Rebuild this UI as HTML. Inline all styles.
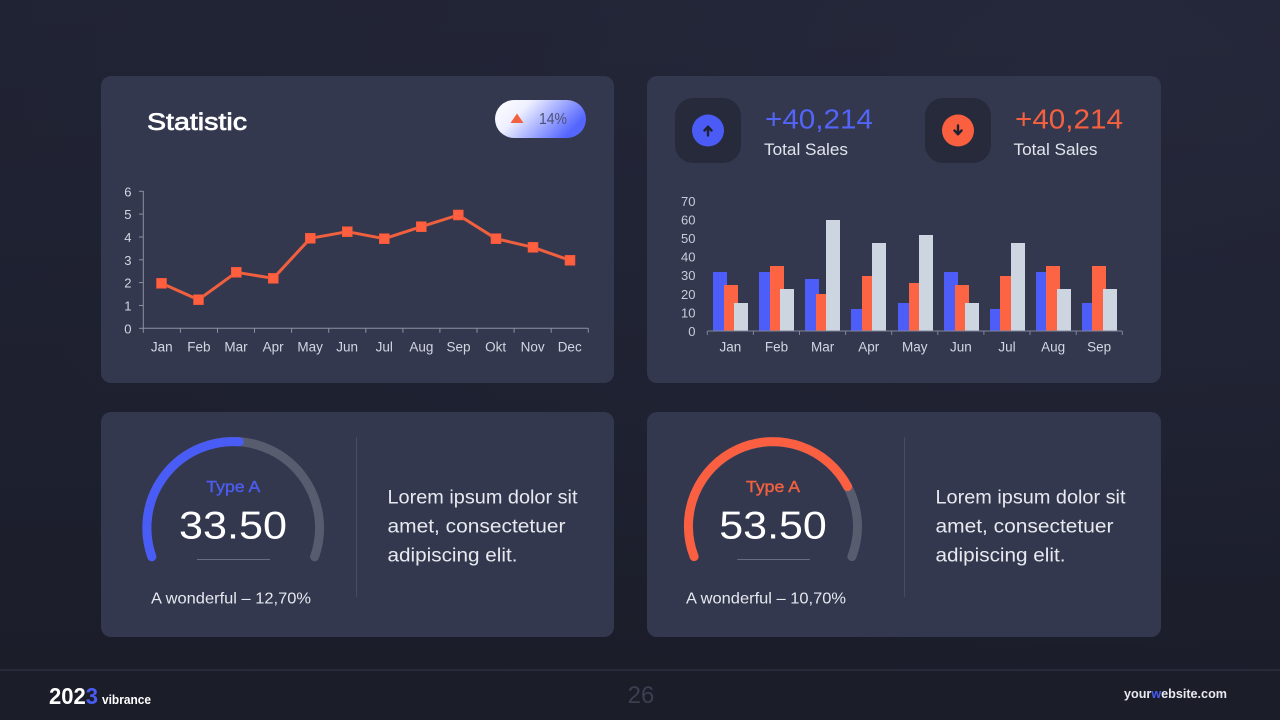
<!DOCTYPE html>
<html><head><meta charset="utf-8"><style>
html,body{margin:0;padding:0;}
body{width:1280px;height:720px;overflow:hidden;background:linear-gradient(180deg,#24273a 0%,#202334 55%,#1b1d29 100%);font-family:"Liberation Sans",sans-serif;}
svg{display:block;}
</style></head><body>
<svg width="1280" height="720" viewBox="0 0 1280 720" xmlns="http://www.w3.org/2000/svg" font-family="Liberation Sans, sans-serif">
<defs>
<linearGradient id="pill" x1="0" y1="0" x2="1" y2="0.4">
<stop offset="0" stop-color="#ffffff"/><stop offset="0.35" stop-color="#eef0ff"/><stop offset="1" stop-color="#5566ff"/>
</linearGradient>
<radialGradient id="vig" cx="0.85" cy="0.1" r="0.9">
<stop offset="0" stop-color="#262a3c" stop-opacity="0.5"/><stop offset="1" stop-color="#181a25" stop-opacity="0.3"/>
</radialGradient>
</defs>
<rect x="0" y="0" width="1280" height="720" fill="url(#vig)"/>
<!-- footer -->
<rect x="0" y="670" width="1280" height="50" fill="#1b1d29"/>
<rect x="0" y="669.5" width="1280" height="1.2" fill="#2f3245"/>
<text x="49" y="704" font-size="23" font-weight="700" fill="#ffffff" textLength="49" lengthAdjust="spacingAndGlyphs">202<tspan fill="#4a5cf0">3</tspan></text>
<text x="102" y="704" font-size="13" font-weight="700" fill="#ffffff" textLength="49" lengthAdjust="spacingAndGlyphs">vibrance</text>
<text x="641" y="703" font-size="24" fill="#3b3f51" text-anchor="middle">26</text>
<text x="1124" y="698" font-size="13" font-weight="700" fill="#e8e9ef" textLength="103" lengthAdjust="spacingAndGlyphs">your<tspan fill="#4a5cf0">w</tspan>ebsite.com</text>

<!-- cards -->
<rect x="101" y="76" width="513" height="307" rx="10" fill="#33384f"/>
<rect x="647" y="76" width="514" height="307" rx="10" fill="#33384f"/>
<rect x="101" y="412" width="513" height="225" rx="10" fill="#33384f"/>
<rect x="647" y="412" width="514" height="225" rx="10" fill="#33384f"/>

<!-- Card 1: Statistic -->
<text x="147" y="130" font-size="24" fill="#ffffff" stroke="#ffffff" stroke-width="0.7" textLength="100" lengthAdjust="spacingAndGlyphs">Statistic</text>
<rect x="495" y="100" width="91" height="38" rx="19" fill="url(#pill)"/>
<polygon points="510.5,123 517,113.5 523.5,123" fill="#f2603f"/>
<text x="539" y="124" font-size="16" fill="#4d5273" textLength="28" lengthAdjust="spacingAndGlyphs">14%</text>

<g stroke="#8c90a2" stroke-width="1" fill="none">
<line x1="143.3" y1="191" x2="143.3" y2="328.3"/>
<line x1="143.3" y1="328.3" x2="588.3" y2="328.3"/>
<line x1="139" y1="191.3" x2="143.3" y2="191.3"/>
<line x1="139" y1="214.1" x2="143.3" y2="214.1"/>
<line x1="139" y1="237" x2="143.3" y2="237"/>
<line x1="139" y1="259.8" x2="143.3" y2="259.8"/>
<line x1="139" y1="282.6" x2="143.3" y2="282.6"/>
<line x1="139" y1="305.5" x2="143.3" y2="305.5"/>
<line x1="139" y1="328.3" x2="143.3" y2="328.3"/>
<path d="M143.3 328.3v4.5M180.4 328.3v4.5M217.5 328.3v4.5M254.5 328.3v4.5M291.6 328.3v4.5M328.7 328.3v4.5M365.8 328.3v4.5M402.9 328.3v4.5M439.9 328.3v4.5M477 328.3v4.5M514.1 328.3v4.5M551.2 328.3v4.5M588.3 328.3v4.5"/>
</g>
<g font-size="13" fill="#d3d6e0" text-anchor="end">
<text x="131.5" y="196.3">6</text>
<text x="131.5" y="219.1">5</text>
<text x="131.5" y="242">4</text>
<text x="131.5" y="264.8">3</text>
<text x="131.5" y="287.6">2</text>
<text x="131.5" y="310.5">1</text>
<text x="131.5" y="333.3">0</text>
</g>
<g font-size="13.5" fill="#d3d6e0" text-anchor="middle">
<text x="161.8" y="351.5">Jan</text>
<text x="198.9" y="351.5">Feb</text>
<text x="236" y="351.5">Mar</text>
<text x="273.1" y="351.5">Apr</text>
<text x="310.1" y="351.5">May</text>
<text x="347.2" y="351.5">Jun</text>
<text x="384.3" y="351.5">Jul</text>
<text x="421.4" y="351.5">Aug</text>
<text x="458.5" y="351.5">Sep</text>
<text x="495.6" y="351.5">Okt</text>
<text x="532.6" y="351.5">Nov</text>
<text x="569.7" y="351.5">Dec</text>
</g>
<polyline fill="none" stroke="#f0603f" stroke-width="3" stroke-linejoin="round" points="161.5,283.3 198.5,299.7 236.3,272.3 273.3,278.3 310.3,238.3 347.3,231.7 384.3,238.7 421.3,226.7 458.3,215 496,238.7 533,247.3 570,260.3"/>
<g fill="#ff5f3e" stroke="#e8553a" stroke-width="0.6">
<rect x="156.5" y="278.3" width="10" height="10"/>
<rect x="193.5" y="294.7" width="10" height="10"/>
<rect x="231.3" y="267.3" width="10" height="10"/>
<rect x="268.3" y="273.3" width="10" height="10"/>
<rect x="305.3" y="233.3" width="10" height="10"/>
<rect x="342.3" y="226.7" width="10" height="10"/>
<rect x="379.3" y="233.7" width="10" height="10"/>
<rect x="416.3" y="221.7" width="10" height="10"/>
<rect x="453.3" y="210" width="10" height="10"/>
<rect x="491" y="233.7" width="10" height="10"/>
<rect x="528" y="242.3" width="10" height="10"/>
<rect x="565" y="255.3" width="10" height="10"/>
</g>

<!-- Card 2: top stats -->
<rect x="675" y="98" width="66" height="65" rx="18" fill="#262a3b"/>
<circle cx="708" cy="130.5" r="16" fill="#4b5cf6"/>
<path d="M708 135.5v-8M704.5 130.5l3.5-3.8 3.5 3.8" fill="none" stroke="#1e2233" stroke-width="2.4" stroke-linecap="round" stroke-linejoin="round"/>
<text x="765" y="128.3" font-size="28" fill="#5364f6" textLength="108" lengthAdjust="spacingAndGlyphs">+40,214</text>
<text x="764" y="155" font-size="17" fill="#e2e4eb" textLength="84" lengthAdjust="spacingAndGlyphs">Total Sales</text>

<rect x="925" y="98" width="66" height="65" rx="18" fill="#262a3b"/>
<circle cx="958" cy="130.5" r="16" fill="#fa6040"/>
<path d="M958 125.5v8M954.5 130.5l3.5 3.8 3.5-3.8" fill="none" stroke="#1e2233" stroke-width="2.4" stroke-linecap="round" stroke-linejoin="round"/>
<text x="1015" y="128.3" font-size="28" fill="#f7603f" textLength="108" lengthAdjust="spacingAndGlyphs">+40,214</text>
<text x="1013.5" y="155" font-size="17" fill="#e2e4eb" textLength="84" lengthAdjust="spacingAndGlyphs">Total Sales</text>

<!-- bar chart -->
<g font-size="13" fill="#c9cdd9" text-anchor="end">
<text x="695.5" y="206">70</text>
<text x="695.5" y="224.5">60</text>
<text x="695.5" y="243">50</text>
<text x="695.5" y="261.6">40</text>
<text x="695.5" y="280.2">30</text>
<text x="695.5" y="298.8">20</text>
<text x="695.5" y="317.3">10</text>
<text x="695.5" y="335.9">0</text>
</g>
<g>
<rect x="713" y="272" width="14" height="59" fill="#4d5ef8"/>
<rect x="724" y="285" width="14" height="46" fill="#fd6443"/>
<rect x="734" y="303" width="14" height="28" fill="#cdd6e0"/>
<rect x="759" y="272" width="14" height="59" fill="#4d5ef8"/>
<rect x="770" y="266" width="14" height="65" fill="#fd6443"/>
<rect x="780" y="289" width="14" height="42" fill="#cdd6e0"/>
<rect x="805" y="279" width="14" height="52" fill="#4d5ef8"/>
<rect x="816" y="294" width="14" height="37" fill="#fd6443"/>
<rect x="826" y="220" width="14" height="111" fill="#cdd6e0"/>
<rect x="851" y="309" width="14" height="22" fill="#4d5ef8"/>
<rect x="862" y="276" width="14" height="55" fill="#fd6443"/>
<rect x="872" y="243" width="14" height="88" fill="#cdd6e0"/>
<rect x="898" y="303" width="14" height="28" fill="#4d5ef8"/>
<rect x="909" y="283" width="14" height="48" fill="#fd6443"/>
<rect x="919" y="235" width="14" height="96" fill="#cdd6e0"/>
<rect x="944" y="272" width="14" height="59" fill="#4d5ef8"/>
<rect x="955" y="285" width="14" height="46" fill="#fd6443"/>
<rect x="965" y="303" width="14" height="28" fill="#cdd6e0"/>
<rect x="990" y="309" width="14" height="22" fill="#4d5ef8"/>
<rect x="1000" y="276" width="14" height="55" fill="#fd6443"/>
<rect x="1011" y="243" width="14" height="88" fill="#cdd6e0"/>
<rect x="1036" y="272" width="14" height="59" fill="#4d5ef8"/>
<rect x="1046" y="266" width="14" height="65" fill="#fd6443"/>
<rect x="1057" y="289" width="14" height="42" fill="#cdd6e0"/>
<rect x="1082" y="303" width="14" height="28" fill="#4d5ef8"/>
<rect x="1092" y="266" width="14" height="65" fill="#fd6443"/>
<rect x="1103" y="289" width="14" height="42" fill="#cdd6e0"/>
</g>
<g stroke="#80859a" stroke-width="1" fill="none">
<line x1="707.3" y1="331" x2="1122.3" y2="331"/>
<path d="M707.3 331v4M753.4 331v4M799.5 331v4M845.6 331v4M891.7 331v4M937.8 331v4M983.9 331v4M1030 331v4M1076.2 331v4M1122.3 331v4"/>
</g>
<g font-size="13.5" fill="#d3d6e0" text-anchor="middle">
<text x="730.4" y="351.5">Jan</text>
<text x="776.5" y="351.5">Feb</text>
<text x="822.6" y="351.5">Mar</text>
<text x="868.7" y="351.5">Apr</text>
<text x="914.8" y="351.5">May</text>
<text x="960.9" y="351.5">Jun</text>
<text x="1007" y="351.5">Jul</text>
<text x="1053.1" y="351.5">Aug</text>
<text x="1099.2" y="351.5">Sep</text>
</g>

<!-- Card 3: gauge -->
<path d="M151.8 556.7 A86.35 86.35 0 1 1 314.6 556.7" fill="none" stroke="#575c6f" stroke-width="9" stroke-linecap="round"/>
<path d="M151.8 556.7 A86.35 86.35 0 0 1 239.2 441.8" fill="none" stroke="#4a5cf6" stroke-width="9" stroke-linecap="round"/>
<text x="233.3" y="492" font-size="16" fill="#4c5cec" stroke="#4c5cec" stroke-width="0.4" text-anchor="middle" textLength="54" lengthAdjust="spacingAndGlyphs">Type A</text>
<text x="179" y="538.3" font-size="39" fill="#ffffff" textLength="108" lengthAdjust="spacingAndGlyphs">33.50</text>
<line x1="197" y1="559.5" x2="270" y2="559.5" stroke="#676c82" stroke-width="1"/>
<text x="151" y="603.3" font-size="16" fill="#e6e8ee" textLength="160" lengthAdjust="spacingAndGlyphs">A wonderful – 12,70%</text>
<line x1="356.5" y1="437" x2="356.5" y2="597" stroke="#474c61" stroke-width="1"/>
<g font-size="19" fill="#e8e9ef">
<text x="387.5" y="503.3" textLength="190" lengthAdjust="spacingAndGlyphs">Lorem ipsum dolor sit</text>
<text x="387.5" y="532.3" textLength="178" lengthAdjust="spacingAndGlyphs">amet, consectetuer</text>
<text x="387.5" y="561.3" textLength="130" lengthAdjust="spacingAndGlyphs">adipiscing elit.</text>
</g>

<!-- Card 4: gauge -->
<path d="M694.1 556.6 A84.5 84.5 0 1 1 851.9 556.6" fill="none" stroke="#575c6f" stroke-width="9" stroke-linecap="round"/>
<path d="M694.1 556.6 A84.5 84.5 0 0 1 847.6 486.6" fill="none" stroke="#f95f40" stroke-width="9" stroke-linecap="round"/>
<text x="773" y="492" font-size="16" fill="#f2613f" stroke="#f2613f" stroke-width="0.4" text-anchor="middle" textLength="54" lengthAdjust="spacingAndGlyphs">Type A</text>
<text x="719.3" y="538.3" font-size="39" fill="#ffffff" textLength="107.5" lengthAdjust="spacingAndGlyphs">53.50</text>
<line x1="737.3" y1="559.5" x2="810" y2="559.5" stroke="#676c82" stroke-width="1"/>
<text x="686" y="603.3" font-size="16" fill="#e6e8ee" textLength="160" lengthAdjust="spacingAndGlyphs">A wonderful – 10,70%</text>
<line x1="904.5" y1="437" x2="904.5" y2="597" stroke="#474c61" stroke-width="1"/>
<g font-size="19" fill="#e8e9ef">
<text x="935.5" y="503.3" textLength="190" lengthAdjust="spacingAndGlyphs">Lorem ipsum dolor sit</text>
<text x="935.5" y="532.3" textLength="178" lengthAdjust="spacingAndGlyphs">amet, consectetuer</text>
<text x="935.5" y="561.3" textLength="130" lengthAdjust="spacingAndGlyphs">adipiscing elit.</text>
</g>
</svg>
</body></html>
